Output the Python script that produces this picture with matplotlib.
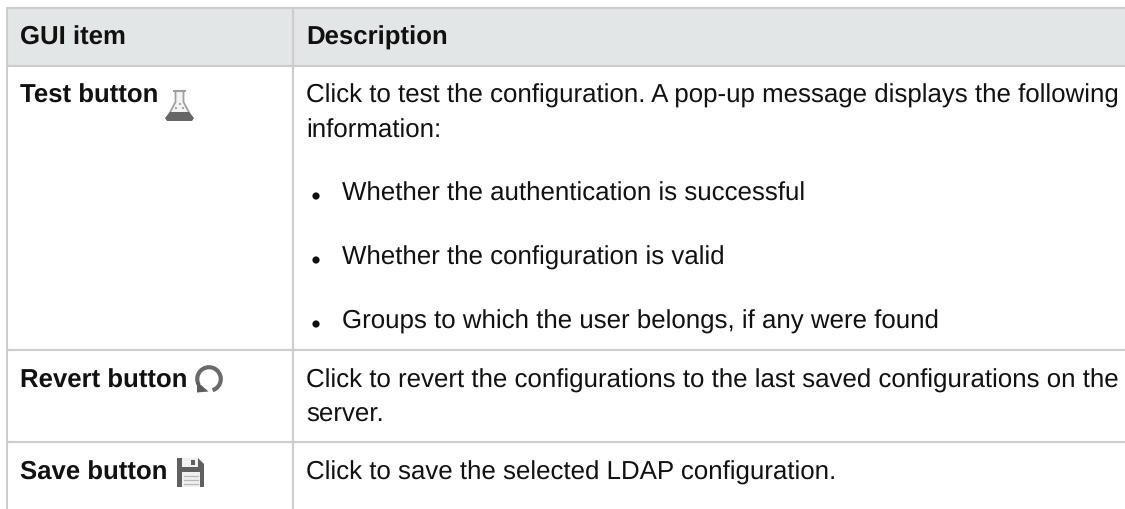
import matplotlib
matplotlib.use("Agg")
import matplotlib.pyplot as plt
from matplotlib.patches import Rectangle, Polygon, Arc, Circle

plt.rcParams['font.family'] = ['Liberation Sans', 'DejaVu Sans']
plt.rcParams['text.hinting'] = 'none'

W, H = 1125, 510
headers = ["GUI item", "Description"]
gui_items = ["Test button", "Revert button", "Save button"]
gui_y = [103, 388, 480]
body_lines = [
    ("Click to test the configuration. A pop-up message displays the following", 306, 103),
    ("information:", 306, 137.5),
    ("Whether the authentication is successful", 341.5, 200.5),
    ("Whether the configuration is valid", 341.5, 265),
    ("Groups to which the user belongs, if any were found", 341.5, 329),
    ("Click to revert the configurations to the last saved configurations on the", 306, 388),
    ("server.", 306, 422),
    ("Click to save the selected LDAP configuration.", 306, 480),
]
bullet_y = [197, 261, 325]

LINE = "#cdcdcd"
HEAD = "#e3e6e6"
INK = "#111111"
FS = 18.6
FS_BOLD = 18.5

fig = plt.figure(figsize=(W / 100, H / 100), dpi=100)
ax = fig.add_axes([0, 0, 1, 1])
ax.set_xlim(0, W)
ax.set_ylim(H, 0)
ax.axis("off")

ax.add_patch(Rectangle((6, 9), W - 6, 57, fc=HEAD, ec="none"))
for y in [9, 66.5, 351, 443]:
    ax.plot([5.5, W], [y, y], color=LINE, lw=1.5, solid_capstyle="butt")
for x in [6.5, 293]:
    ax.plot([x, x], [8, H], color=LINE, lw=1.5, solid_capstyle="butt")

ax.text(20, 45, headers[0], fontsize=FS_BOLD, fontweight="bold", color=INK, va="baseline")
ax.text(306, 45, headers[1], fontsize=FS_BOLD, fontweight="bold", color=INK, va="baseline")
for label, y in zip(gui_items, gui_y):
    ax.text(20, y, label, fontsize=FS_BOLD, fontweight="bold", color=INK, va="baseline")
for line, x, y in body_lines:
    ax.text(x, y, line, fontsize=FS, color=INK, va="baseline")
for y in bullet_y:
    ax.add_patch(Circle((316, y), 3.6, fc=INK, ec="none"))

# Flask icon
DARK = "#666666"
MID = "#a0a0a0"
ax.plot([173, 186], [91.5, 91.5], color=MID, lw=1.5, solid_capstyle="butt")
ax.add_patch(Polygon([(175.5, 92), (175.5, 103), (166.5, 120), (192.5, 120), (183.5, 103), (183.5, 92)],
                     fc="#f4f4f4", ec=MID, lw=1.3))
ax.add_patch(Polygon([(170, 113), (189, 113), (194, 119), (192, 122), (167, 122), (165, 119)], fc=DARK, ec="none"))
for cx, cy in [(180, 105), (176, 109), (183, 109)]:
    ax.add_patch(Circle((cx, cy), 1.1, fc=MID, ec="none"))

# Revert icon (the y axis is inverted, so arc angles run clockwise on screen)
ax.add_patch(Arc((209, 380), 23.5, 23.5, theta1=-208, theta2=72, color="#6a6a6a", lw=3))
ax.add_patch(Polygon([(197, 382.5), (208.5, 392.5), (197, 393.5)], fc="#5c5c5c", ec="none"))

# Save icon
ax.add_patch(Polygon([(177, 459), (198, 459), (204, 465), (204, 488), (177, 488)], fc="#5f5f5f", ec="none"))
ax.add_patch(Rectangle((182, 459), 16, 9, fc="#f0f0f0", ec="none"))
ax.add_patch(Rectangle((191, 461), 4, 5, fc="#5f5f5f", ec="none"))
ax.add_patch(Rectangle((182, 473), 18, 15, fc="#f0f0f0", ec="none"))
for y in [477, 481, 485]:
    ax.plot([184, 198], [y, y], color="#b8b8b8", lw=0.9)

fig.savefig("out.png", dpi=100, facecolor="white")
